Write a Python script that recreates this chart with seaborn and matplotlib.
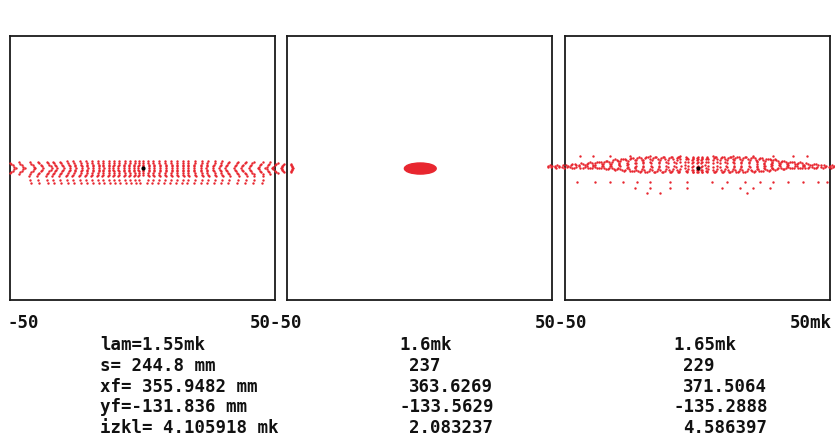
import numpy as np
import pandas as pd
import seaborn as sns
import matplotlib.pyplot as plt
from matplotlib.patches import Ellipse

# lam = 1.55 mk: spot centres along the slit image (mk), bend of the chevron arms, half height
spot_x_155 = [-50, -46.6, -42.5, -39.4, -36, -33.8, -31.1, -28.5, -26.2, -23.6, -21.3,
              -19, -16.8, -14.9, -12.6, -10.8, -8.9, -6.6, -4.7, -2.8, -1.3, 0,
              2.1, 4, 6.2, 8.5, 10.8, 13, 15.3, 17.2, 19.8, 22.5, 24.7, 27.4, 30,
              32.5, 35.9, 38.9, 41.9, 45.3, 48.3, 51, 53.3, 56]
bend_155 = [2.2, 2.1, 2.0, 1.9, 1.8, 1.6, 1.5, 1.3, 1.1, 0.9, 0.7,
            0.5, 0.4, 0.2, 0.0, -0.2, -0.3, -0.4, -0.5, -0.5, -0.4, 0,
            0.4, 0.5, 0.5, 0.4, 0.3, 0.2, 0.0, -0.2, -0.4, -0.5, -0.7, -0.9, -1.1,
            -1.3, -1.5, -1.6, -1.8, -1.9, -2.0, -2.1, -1.0, 0.8]
half_h_155 = [2.0, 2.1, 2.2, 2.3, 2.4, 2.4, 2.4, 2.5, 2.5, 2.5, 2.5,
              2.5, 2.5, 2.6, 2.6, 2.6, 2.6, 2.6, 2.6, 2.6, 2.6, 2.6,
              2.6, 2.6, 2.6, 2.6, 2.6, 2.6, 2.6, 2.5, 2.5, 2.5, 2.5, 2.5, 2.5,
              2.4, 2.4, 2.4, 2.3, 2.2, 2.1, 2.0, 1.6, 1.4]
tail_rows_155 = [-3.2, -4.4, -5.6]

# lam = 1.6 mk: one compact spot
spot_x_160 = [0.3]
spot_y_160 = [-0.2]
half_w_160 = [6.0]
half_h_160 = [2.1]

# lam = 1.65 mk: elliptical spots
spot_x_165 = [-55.7, -53.1, -50, -46.9, -43.7, -40.6, -37.4, -34.3, -31.1, -28, -24.8,
              -22, -19.2, -16, -13.1, -10.1, -7.2, -4.1, -1.8, 0, 1.6, 3.5, 6.6, 9.5,
              12.3, 15, 17.9, 21.1, 23.8, 26.7, 29.2, 32.4, 35.5, 38.7, 41.2, 44.3,
              47.5, 50.6, 53.5]
half_h_165 = [0.4, 0.5, 0.6, 0.8, 0.9, 1.1, 1.3, 1.6, 2.0, 2.3, 2.6, 2.8, 2.9, 3.0,
              3.0, 3.0, 2.9, 2.8, 2.8, 2.8, 2.8, 2.8, 2.9, 3.0, 3.0, 3.0, 2.9, 2.8,
              2.6, 2.3, 2.0, 1.6, 1.3, 1.1, 0.9, 0.8, 0.6, 0.5, 0.4]
half_w_165 = [0.9, 0.9, 1.0, 1.1, 1.2, 1.3, 1.4, 1.4, 1.5, 1.5, 1.5, 1.5, 1.5, 1.4,
              1.3, 1.1, 0.8, 0.5, 0.2, 0.1, 0.2, 0.5, 0.8, 1.1, 1.3, 1.4, 1.5, 1.5,
              1.5, 1.5, 1.5, 1.4, 1.4, 1.3, 1.2, 1.1, 1.0, 0.9, 0.9]
centre_y_165 = [0.6, 0.6, 0.7, 0.8, 0.9, 1.0, 1.1, 1.2, 1.3, 1.3, 1.3, 1.3, 1.3, 1.3,
                1.3, 1.3, 1.3, 1.3, 1.3, 1.3, 1.3, 1.3, 1.3, 1.3, 1.3, 1.3, 1.3, 1.3,
                1.3, 1.3, 1.3, 1.2, 1.1, 1.0, 0.9, 0.8, 0.7, 0.6, 0.6]
stray_x_165 = [-45.6, -38.6, -33, -28, -22.9, -17.9, -10.3, -4.1, 5.3, 11, 17.9, 23.6,
               28.6, 34.3, 39.9, 45.6, 48.8,
               -23.6, -17.9, -10.3, -4.1, 9.1, 16, 21.1, 27.4,
               -19.2, -14.1, 18.6,
               -44.3, -39.3, -33, -25.5, -17.9, -6.6, 6, 13.5, 21.1, 28.6, 36.2, 41.2]
stray_y_165 = [-5.2] * 17 + [-7.5] * 8 + [-9.4] * 3 + [4.6] * 12

# text block under the panels
edge_labels = ["-50", "50-50", "50-50", "50mk"]
rows_col1 = ["lam=1.55mk", "s= 244.8 mm", "xf= 355.9482 mm", "yf=-131.836 mm", "izkl= 4.105918 mk"]
rows_col2 = ["1.6mk", "237", "363.6269", "-133.5629", "2.083237"]
rows_col3 = ["1.65mk", "229", "371.5064", "-135.2888", "4.586397"]

red = "#e8262f"


def spots_155():
    xs, ys = [], []
    for x, b, h in zip(spot_x_155, bend_155, half_h_155):
        t = np.linspace(-1, 1, 9)
        xs += list(x + b * (1 - np.abs(t)))
        ys += list(h * t)
        if 1 < abs(x) < 46:
            side = np.sign(x)
            for k, ty in enumerate(tail_rows_155):
                xs.append(x + side * 0.35 * (1 - k))
                ys.append(ty)
    return pd.DataFrame({"x": xs, "y": ys})


def spots_165():
    xs, ys = [], []
    for x, a, b, yc in zip(spot_x_165, half_w_165, half_h_165, centre_y_165):
        n = int(np.clip(round(4 * (a + b)), 4, 14))
        ang = np.linspace(0, 2 * np.pi, n, endpoint=False) + 0.3
        xs += list(x + a * np.cos(ang))
        ys += list(yc + b * np.sin(ang))
    xs += stray_x_165
    ys += stray_y_165
    return pd.DataFrame({"x": xs, "y": ys})


sns.set_style("white")
W, H = 835, 438
fig = plt.figure(figsize=(W / 100, H / 100), dpi=100)
fig.patch.set_facecolor("white")

lefts = [10, 287, 565]
axes = []
for lx in lefts:
    ax = fig.add_axes([lx / W, (H - 300) / H, 265 / W, 264 / H])
    ax.set_xlim(-50, 50)
    ax.set_ylim(-50, 50)
    ax.set_xticks([])
    ax.set_yticks([])
    ax.set_facecolor("none")
    for sp in ax.spines.values():
        sp.set_color("#1a1a1a")
        sp.set_linewidth(1.3)
    axes.append(ax)

d1 = spots_155()
sns.scatterplot(data=d1, x="x", y="y", ax=axes[0], s=3, color=red,
                linewidth=0, legend=False, clip_on=False, zorder=3)
axes[0].scatter([0.3], [0], s=4, color="black", zorder=4, clip_on=False)

for x, y, w, h in zip(spot_x_160, spot_y_160, half_w_160, half_h_160):
    axes[1].add_patch(Ellipse((x, y), 2 * w, 2 * h, color=red, zorder=3))

d3 = spots_165()
sns.scatterplot(data=d3, x="x", y="y", ax=axes[2], s=3, color=red,
                linewidth=0, legend=False, clip_on=False, zorder=3)
axes[2].scatter([0.3], [0], s=4, color="black", zorder=4, clip_on=False)

for ax in axes:
    ax.set_xlabel("")
    ax.set_ylabel("")

font = dict(family="DejaVu Sans Mono", fontweight="bold", fontsize=12.5, color="#111111")

for lbl, px in zip(edge_labels, [7, 250, 535, 790]):
    fig.text(px / W, 1 - 328 / H, lbl, ha="left", va="baseline", **font)

row_base = [350, 371, 392, 412, 433]
col2_x = [399, 409, 409, 399, 409]
col3_x = [673, 683, 683, 673, 683]
for i, yb in enumerate(row_base):
    fig.text(100 / W, 1 - yb / H, rows_col1[i], ha="left", va="baseline", **font)
    fig.text(col2_x[i] / W, 1 - yb / H, rows_col2[i], ha="left", va="baseline", **font)
    fig.text(col3_x[i] / W, 1 - yb / H, rows_col3[i], ha="left", va="baseline", **font)

fig.savefig("out.png", dpi=100, facecolor="white")
